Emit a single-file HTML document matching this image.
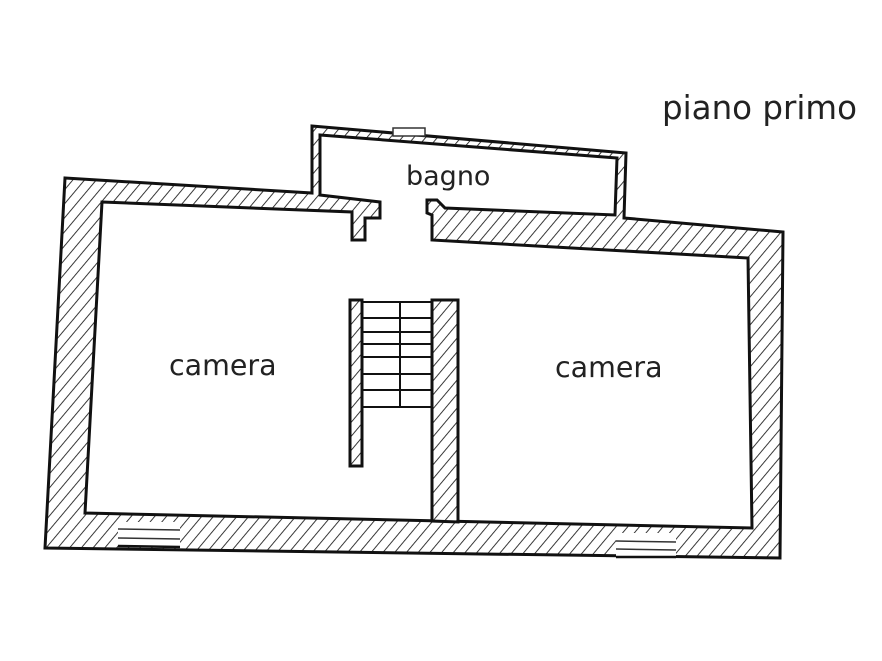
<!DOCTYPE html>
<html><head><meta charset="utf-8"><style>
body{margin:0;background:#fff;}
svg{display:block;}
text{font-family:"DejaVu Sans","Liberation Sans",sans-serif;fill:#222;}
</style></head><body>
<svg width="882" height="661" viewBox="0 0 882 661" xmlns="http://www.w3.org/2000/svg">
<defs>
<pattern id="h" patternUnits="userSpaceOnUse" width="9" height="9" patternTransform="rotate(40)">
<rect width="9" height="9" fill="#fff"/>
<line x1="0" y1="0" x2="0" y2="9" stroke="#222" stroke-width="1.8"/>
</pattern>
</defs>
<polygon points="65,178 312,193 312,126 626,153 624,218 783,232 780,558 45,548" fill="url(#h)" stroke="#111" stroke-width="3"/>
<polygon points="102,202 352,212 352,240 365,240 365,218 380,218 380,202 320,195 320,135 617,158 615,215 445,208 437,200 427,200 427,213 432,215 432,240 748,258 752,528 85,513 102,202" fill="#fff" stroke="#111" stroke-width="3"/>
<rect x="118" y="522" width="62" height="24" fill="#fff"/>
<line x1="118" y1="529" x2="180" y2="530" stroke="#333" stroke-width="1.5"/>
<line x1="118" y1="538" x2="180" y2="539" stroke="#333" stroke-width="1.5"/>
<line x1="118" y1="546" x2="180" y2="547" stroke="#111" stroke-width="2.5"/>
<rect x="616" y="533" width="60" height="24" fill="#fff"/>
<line x1="616" y1="541" x2="676" y2="542" stroke="#333" stroke-width="1.5"/>
<line x1="616" y1="549" x2="676" y2="550" stroke="#333" stroke-width="1.5"/>
<line x1="616" y1="557" x2="676" y2="557" stroke="#111" stroke-width="2.5"/>
<rect x="393" y="128" width="32" height="8" fill="#fff" stroke="#333" stroke-width="1.5"/>
<polygon points="432,300 458,300 458,522 432,521" fill="url(#h)" stroke="#111" stroke-width="3"/>
<polygon points="350,300 362,300 362,466 350,466" fill="url(#h)" stroke="#111" stroke-width="3"/>
<g stroke="#111" stroke-width="2">
<line x1="362" y1="302" x2="432" y2="302"/>
<line x1="362" y1="318" x2="432" y2="318"/>
<line x1="362" y1="332" x2="432" y2="332"/>
<line x1="362" y1="344" x2="432" y2="344"/>
<line x1="362" y1="357" x2="432" y2="357"/>
<line x1="362" y1="374" x2="432" y2="374"/>
<line x1="362" y1="390" x2="432" y2="390"/>
<line x1="362" y1="407" x2="432" y2="407"/>
<line x1="400" y1="302" x2="400" y2="407"/>
</g>
<text x="662" y="119" font-size="32.5">piano primo</text>
<text x="406" y="185" font-size="27">bagno</text>
<text x="169" y="375" font-size="28.5">camera</text>
<text x="555" y="377" font-size="28.5">camera</text>
</svg>
</body></html>
